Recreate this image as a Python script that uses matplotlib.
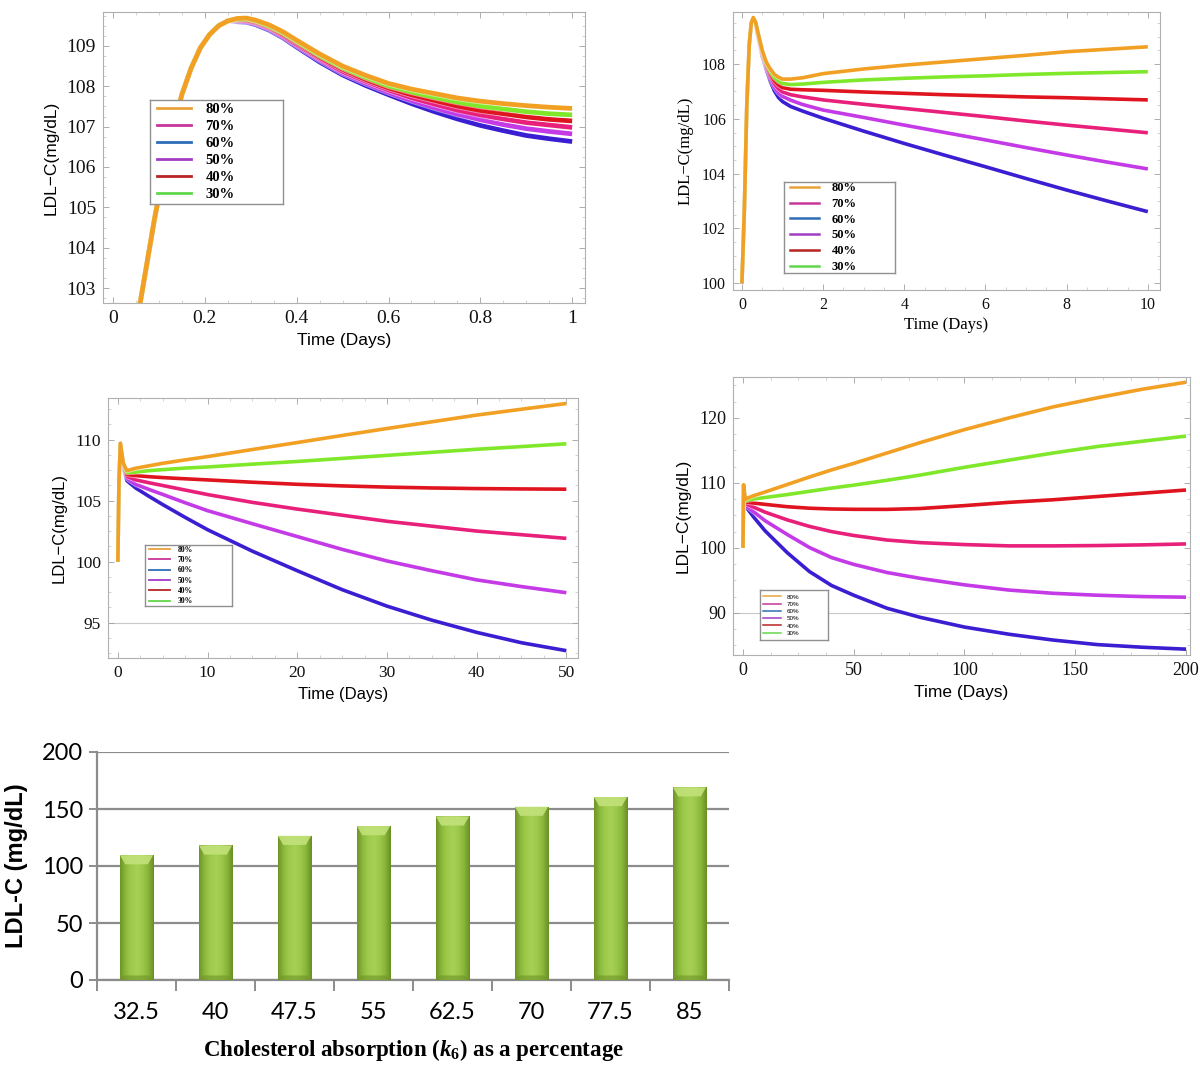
import matplotlib
matplotlib.use("Agg")
import matplotlib.pyplot as plt
import numpy as np
from matplotlib import font_manager
from matplotlib.lines import Line2D
from matplotlib.patches import Polygon
from matplotlib.colors import LinearSegmentedColormap
from matplotlib.ticker import AutoMinorLocator

# ---------------- data ----------------
series_labels = ["80%", "70%", "60%", "50%", "40%", "30%"]

# panel A : 0 - 1 day
tA = [0, 0.03, 0.06, 0.09, 0.12, 0.15, 0.17, 0.19, 0.21, 0.23, 0.25,
      0.27, 0.29, 0.31, 0.34, 0.37, 0.40, 0.45, 0.50, 0.55, 0.60, 0.65,
      0.70, 0.75, 0.80, 0.85, 0.90, 0.95, 1.00]
riseA = [100, 101.2, 102.7, 104.7, 106.5, 107.8, 108.45, 108.95, 109.28, 109.5, 109.62]
A_orange = riseA + [109.68, 109.69, 109.64, 109.52, 109.35, 109.14, 108.80, 108.50, 108.27, 108.07,
                    107.93, 107.82, 107.71, 107.63, 107.57, 107.52, 107.48, 107.45]
A_green = riseA + [109.66, 109.67, 109.62, 109.49, 109.32, 109.11, 108.76, 108.46, 108.22, 108.01,
                   107.86, 107.73, 107.61, 107.51, 107.44, 107.37, 107.32, 107.29]
A_red = riseA + [109.65, 109.65, 109.60, 109.47, 109.29, 109.08, 108.72, 108.42, 108.17, 107.96,
                 107.79, 107.65, 107.51, 107.40, 107.32, 107.24, 107.18, 107.14]
A_pink = riseA + [109.63, 109.63, 109.58, 109.45, 109.26, 109.04, 108.69, 108.37, 108.13, 107.91,
                  107.72, 107.56, 107.41, 107.29, 107.19, 107.10, 107.04, 106.98]
A_violet = riseA + [109.62, 109.61, 109.56, 109.42, 109.23, 109.01, 108.65, 108.33, 108.08, 107.85,
                    107.65, 107.47, 107.31, 107.17, 107.05, 106.95, 106.88, 106.82]
A_blue = riseA + [109.60, 109.59, 109.53, 109.39, 109.20, 108.97, 108.60, 108.28, 108.02, 107.79,
                  107.57, 107.37, 107.19, 107.03, 106.90, 106.78, 106.70, 106.63]

# panel B : 0 - 10 days
tB = [0, 0.06, 0.12, 0.18, 0.23, 0.28, 0.34, 0.4, 0.5, 0.6, 0.7, 0.8, 0.9, 1.0,
      1.2, 1.5, 2, 3, 4, 5, 6, 7, 8, 9, 10]
riseB = [100, 102.7, 106.5, 108.7, 109.5]
B_orange = riseB + [109.70, 109.52, 109.12, 108.50, 108.07, 107.82, 107.62, 107.52, 107.45,
                    107.45, 107.50, 107.65, 107.82, 107.96, 108.08, 108.20, 108.32, 108.45, 108.54, 108.63]
B_green = riseB + [109.67, 109.49, 109.09, 108.46, 108.02, 107.73, 107.50, 107.37, 107.29,
                   107.25, 107.27, 107.33, 107.42, 107.48, 107.53, 107.57, 107.62, 107.66, 107.69, 107.72]
B_red = riseB + [109.65, 109.47, 109.06, 108.42, 107.97, 107.65, 107.39, 107.24, 107.14,
                 107.08, 107.06, 107.04, 106.98, 106.93, 106.88, 106.84, 106.80, 106.77, 106.73, 106.69]
B_pink = riseB + [109.63, 109.45, 109.02, 108.37, 107.92, 107.56, 107.28, 107.10, 106.98,
                  106.88, 106.80, 106.69, 106.53, 106.38, 106.23, 106.08, 105.92, 105.77, 105.63, 105.49]
B_violet = riseB + [109.61, 109.42, 108.99, 108.33, 107.86, 107.47, 107.16, 106.95, 106.82,
                    106.68, 106.52, 106.32, 106.05, 105.77, 105.50, 105.23, 104.95, 104.68, 104.42, 104.17]
B_blue = riseB + [109.58, 109.39, 108.95, 108.28, 107.80, 107.37, 107.02, 106.78, 106.63,
                  106.45, 106.28, 106.02, 105.55, 105.10, 104.67, 104.25, 103.82, 103.40, 103.00, 102.61]

# panel C : 0 - 50 days
tC = [0, 0.12, 0.28, 0.6, 1.0, 2, 3.5, 5, 7.5, 10, 15, 20, 25, 30, 35, 40, 45, 50]
C_orange = [100, 106.5, 109.70, 108.07, 107.45, 107.65, 107.85, 108.05, 108.33, 108.60, 109.18, 109.75, 110.33, 110.90, 111.45, 112.00, 112.48, 112.95]
C_green = [100, 106.5, 109.67, 108.02, 107.29, 107.33, 107.45, 107.53, 107.66, 107.75, 107.98, 108.20, 108.45, 108.70, 108.95, 109.20, 109.42, 109.65]
C_red = [100, 106.5, 109.65, 107.97, 107.14, 107.04, 106.95, 106.88, 106.78, 106.69, 106.50, 106.33, 106.20, 106.10, 106.03, 105.98, 105.95, 105.93]
C_pink = [100, 106.5, 109.63, 107.92, 106.98, 106.69, 106.45, 106.23, 105.86, 105.49, 104.85, 104.30, 103.80, 103.30, 102.90, 102.50, 102.20, 101.90]
C_violet = [100, 106.5, 109.61, 107.86, 106.82, 106.32, 105.90, 105.50, 104.82, 104.17, 103.10, 102.05, 101.00, 100.05, 99.25, 98.50, 97.95, 97.45]
C_blue = [100, 106.5, 109.58, 107.80, 106.63, 106.02, 105.33, 104.67, 103.62, 102.61, 100.85, 99.25, 97.70, 96.35, 95.20, 94.20, 93.35, 92.70]

# panel D : 0 - 200 days
tD = [0, 0.28, 1, 2, 5, 10, 20, 30, 40, 50, 65, 80, 100, 120, 140, 160, 180, 200]
D_orange = [100, 109.70, 107.45, 107.65, 108.05, 108.60, 109.75, 110.90, 112.00, 113.00, 114.60, 116.20, 118.20, 120.00, 121.70, 123.10, 124.40, 125.50]
D_green = [100, 109.67, 107.29, 107.33, 107.53, 107.75, 108.20, 108.70, 109.20, 109.65, 110.40, 111.20, 112.40, 113.50, 114.60, 115.60, 116.40, 117.20]
D_red = [100, 109.65, 107.14, 107.04, 106.88, 106.69, 106.33, 106.10, 105.98, 105.93, 105.92, 106.05, 106.50, 107.00, 107.40, 107.90, 108.40, 108.90]
D_pink = [100, 109.63, 106.98, 106.69, 106.23, 105.49, 104.30, 103.30, 102.50, 101.90, 101.20, 100.80, 100.50, 100.30, 100.30, 100.35, 100.45, 100.60]
D_violet = [100, 109.61, 106.82, 106.32, 105.50, 104.17, 102.05, 100.05, 98.50, 97.45, 96.20, 95.30, 94.30, 93.50, 93.00, 92.70, 92.50, 92.40]
D_blue = [100, 109.58, 106.63, 106.02, 104.67, 102.61, 99.25, 96.35, 94.20, 92.70, 90.70, 89.30, 87.80, 86.70, 85.80, 85.10, 84.70, 84.40]

# bar chart
bar_categories = ["32.5", "40", "47.5", "55", "62.5", "70", "77.5", "85"]
bar_values = [109.5, 118, 126.5, 135, 143.5, 152, 160.5, 169]

# ticks
A_xticks = [0, 0.2, 0.4, 0.6, 0.8, 1.0]
A_xticklabels = ["0", "0.2", "0.4", "0.6", "0.8", "1"]
A_yticks = [103, 104, 105, 106, 107, 108, 109]
B_xticks = [0, 2, 4, 6, 8, 10]
B_yticks = [100, 102, 104, 106, 108]
C_xticks = [0, 10, 20, 30, 40, 50]
C_yticks = [95, 100, 105, 110]
D_xticks = [0, 50, 100, 150, 200]
D_yticks = [90, 100, 110, 120]
bar_yticks = [0, 50, 100, 150, 200]

# ---------------- style ----------------
line_colors = {"orange": "#f2a024", "green": "#80e82a", "red": "#e0141e",
               "pink": "#e8207a", "violet": "#c43ae6", "blue": "#3a1ed2"}
legend_colors = ["#e8a23a", "#c8369a", "#2e6eb8", "#a23cc4", "#b82424", "#60d84c"]

names = {f.name for f in font_manager.fontManager.ttflist}
SERIF = "Liberation Serif"
SANS = "Liberation Sans"
NARROW = "Liberation Sans Narrow" if "Liberation Sans Narrow" in names else "Lato"

plt.rcParams["font.family"] = [SERIF, "DejaVu Serif"]
plt.rcParams["mathtext.fontset"] = "custom"
plt.rcParams["mathtext.rm"] = "Liberation Serif:bold"
plt.rcParams["mathtext.it"] = "Liberation Serif:italic:bold"

W, H = 1200, 1070
fig = plt.figure(figsize=(W / 100, H / 100), dpi=100)
fig.patch.set_facecolor("white")


def px_axes(l, t, r, b, **kw):
    return fig.add_axes([l / W, 1 - b / H, (r - l) / W, (b - t) / H], **kw)


def mma_frame(ax, fs):
    for s in ax.spines.values():
        s.set_color("#b0b0b0")
        s.set_linewidth(0.8)
    ax.xaxis.set_minor_locator(AutoMinorLocator(4))
    ax.yaxis.set_minor_locator(AutoMinorLocator(4))
    ax.tick_params(which="major", direction="in", top=True, right=True,
                   length=4, width=0.6, color="#a0a0a0", labelsize=fs,
                   labelcolor="#111111", pad=5)
    ax.tick_params(which="minor", direction="in", top=True, right=True,
                   length=2, width=0.5, color="#c0c0c0")
    for lab in ax.get_xticklabels() + ax.get_yticklabels():
        lab.set_family(SERIF)


def draw_series(ax, t, ys, lw):
    order = ["blue", "violet", "pink", "red", "green", "orange"]
    for key in order:
        ax.plot(t, ys[key], color="white", lw=lw + 1.2, alpha=0.5, solid_capstyle="butt")
        ax.plot(t, ys[key], color=line_colors[key], lw=lw, solid_capstyle="butt",
                solid_joinstyle="round")


def legend_box(l, t, r, b, fs, lw, hl, family, weight, spacing):
    lax = px_axes(l, t, r, b)
    lax.set_facecolor("white")
    lax.set_xticks([])
    lax.set_yticks([])
    for s in lax.spines.values():
        s.set_color("#909090")
        s.set_linewidth(1.0)
    handles = [Line2D([0], [0], color=c, lw=lw) for c in legend_colors]
    lax.legend(handles, series_labels, loc="center left", frameon=False,
               prop={"family": family, "size": fs, "weight": weight},
               handlelength=hl, handletextpad=1.0, labelspacing=spacing,
               borderaxespad=0.3, borderpad=0.2)
    lax.set_zorder(5)


# ---------------- panel A ----------------
axA = px_axes(103, 12, 585, 303)
draw_series(axA, tA, {"orange": A_orange, "green": A_green, "red": A_red,
                      "pink": A_pink, "violet": A_violet, "blue": A_blue}, 3.4)
axA.set_xlim(-0.022, 1.028)
axA.set_ylim(102.63, 109.84)
axA.set_xticks(A_xticks)
axA.set_xticklabels(A_xticklabels)
axA.set_yticks(A_yticks)
mma_frame(axA, 14)
axA.set_xlabel("Time (Days)", family=SANS, fontsize=12.5, labelpad=4)
axA.set_ylabel("LDL\u2212C(mg/dL)", family=SANS, fontsize=12.5, labelpad=6)
legend_box(150, 100, 283, 204, 10.5, 2.0, 2.3, SERIF, "bold", 0.25)

# ---------------- panel B ----------------
axB = px_axes(733, 12, 1160, 290)
draw_series(axB, tB, {"orange": B_orange, "green": B_green, "red": B_red,
                      "pink": B_pink, "violet": B_violet, "blue": B_blue}, 2.6)
axB.set_xlim(-0.22, 10.3)
axB.set_ylim(99.75, 109.9)
axB.set_xticks(B_xticks)
axB.set_yticks(B_yticks)
mma_frame(axB, 11.5)
axB.set_xlabel("Time (Days)", family=SERIF, fontsize=12, labelpad=3)
axB.set_ylabel("LDL\u2212C(mg/dL)", family=SERIF, fontsize=12, labelpad=6)
legend_box(784, 182, 895, 273, 9, 1.8, 2.3, SERIF, "bold", 0.3)

# ---------------- panel C ----------------
axC = px_axes(108, 398, 578, 658)
axC.axhline(95, color="#c8c8c8", lw=0.8, zorder=0)
draw_series(axC, tC, {"orange": C_orange, "green": C_green, "red": C_red,
                      "pink": C_pink, "violet": C_violet, "blue": C_blue}, 2.6)
axC.set_xlim(-1.1, 51.3)
axC.set_ylim(92.1, 113.4)
axC.set_xticks(C_xticks)
axC.set_yticks(C_yticks)
mma_frame(axC, 12.5)
axC.set_xlabel("Time (Days)", family=SANS, fontsize=12, labelpad=4)
axC.set_ylabel("LDL\u2212C(mg/dL)", family=SANS, fontsize=12, labelpad=6)
legend_box(145, 545, 232, 606, 5.5, 1.3, 2.8, SERIF, "bold", 0.3)

# ---------------- panel D ----------------
axD = px_axes(733, 377, 1190, 655)
axD.axhline(90, color="#c8c8c8", lw=0.8, zorder=0)
draw_series(axD, tD, {"orange": D_orange, "green": D_green, "red": D_red,
                      "pink": D_pink, "violet": D_violet, "blue": D_blue}, 2.6)
axD.set_xlim(-4.5, 201.8)
axD.set_ylim(83.5, 126.3)
axD.set_xticks(D_xticks)
axD.set_yticks(D_yticks)
mma_frame(axD, 13)
axD.set_xlabel("Time (Days)", family=SANS, fontsize=12.5, labelpad=4)
axD.set_ylabel("LDL\u2212C(mg/dL)", family=SANS, fontsize=12.5, labelpad=6)
legend_box(760, 590, 828, 640, 4.5, 1.1, 2.8, SANS, "normal", 0.3)

# ---------------- bar chart ----------------
axE = px_axes(97, 752, 729, 980)
xpos = np.arange(len(bar_categories))
bars = axE.bar(xpos, bar_values, width=0.42, color="#9cc94a", zorder=3)
grad = LinearSegmentedColormap.from_list(
    "bar", ["#6f9428", "#8cba3c", "#9ecb4c", "#a6d054", "#9cc94a", "#88b63a", "#6a8f24"])
for b in bars:
    x0, w, h = b.get_x(), b.get_width(), b.get_height()
    im = axE.imshow(np.linspace(0, 1, 64)[None, :], cmap=grad, aspect="auto",
                    extent=(x0, x0 + w, 0, h), zorder=3.5)
    im.set_clip_path(b)
    cap = Polygon([(x0, h), (x0 + w, h), (x0 + w * 0.84, h - 8), (x0 + w * 0.16, h - 8)],
                  closed=True, facecolor="#c2e27a", edgecolor="none", alpha=0.9, zorder=4)
    axE.add_patch(cap)
    foot = Polygon([(x0, 0), (x0 + w, 0), (x0 + w * 0.88, 4), (x0 + w * 0.12, 4)],
                   closed=True, facecolor="#6f9428", edgecolor="none", alpha=0.6, zorder=4)
    axE.add_patch(foot)
axE.set_xlim(-0.5, len(bar_categories) - 0.5)
axE.set_ylim(0, 200)
axE.set_yticks(bar_yticks)
axE.yaxis.grid(True, color="#8c8c8c", lw=1.6, zorder=0)
axE.set_axisbelow(True)
for side in ["top", "right"]:
    axE.spines[side].set_visible(False)
for side in ["left", "bottom"]:
    axE.spines[side].set_color("#8c8c8c")
    axE.spines[side].set_linewidth(1.6)
axE.set_xticks(xpos)
axE.set_xticklabels(bar_categories)
axE.set_xticks(np.arange(len(bar_categories) + 1) - 0.5, minor=True)
axE.tick_params(axis="x", which="major", length=0, pad=16, labelsize=17)
axE.tick_params(axis="x", which="minor", length=8, width=1.4, color="#8c8c8c", direction="out")
axE.tick_params(axis="y", length=6, width=1.4, color="#8c8c8c", direction="out", labelsize=17, pad=4)
for lab in axE.get_xticklabels() + axE.get_yticklabels():
    lab.set_family(NARROW)
axE.set_ylabel("LDL-C (mg/dL)", family=SANS, fontweight="bold", fontsize=17, labelpad=10)
axE.set_xlabel(r"Cholesterol absorption ($k_6$) as a percentage", family=SERIF,
               fontweight="bold", fontsize=16.5, labelpad=10)

fig.savefig("out.png", dpi=100, facecolor="white")
